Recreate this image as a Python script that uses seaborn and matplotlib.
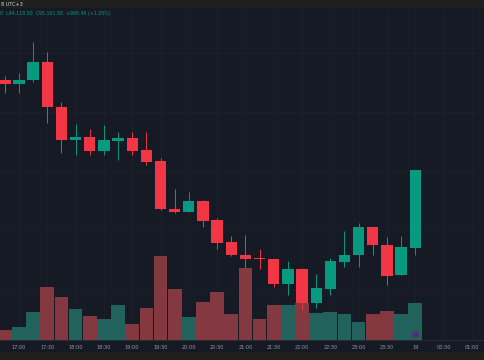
import numpy as np
import pandas as pd
import matplotlib
matplotlib.use("Agg")
import matplotlib.pyplot as plt
from matplotlib.patches import Rectangle
import seaborn as sns

# 15 minute candles, 16:45 -> 00:00
opens = [96250, 96199, 96250, 96480, 95905, 95484, 95523, 95344, 95472, 95510,
         95357, 95216, 94604, 94566, 94706, 94464, 94183, 94017, 93968, 93966,
         93647, 93838, 93404, 93583, 93928, 94017, 94374, 94145, 93762, 94106]
highs = [96301, 96339, 96735, 96607, 95969, 95688, 95625, 95676, 95586, 95586,
         95586, 95255, 94859, 94821, 94719, 94489, 94259, 94272, 94093, 93966,
         93940, 93851, 93775, 93979, 94323, 94425, 94374, 94247, 94259, 95101.5]
lows = [96084, 96084, 96224, 95701, 95318, 95293, 95293, 95293, 95229, 95293,
        95165, 94591, 94553, 94566, 94374, 94093, 94004, 93851, 93838, 93609,
        93506, 93315, 93341, 93506, 93864, 93864, 94017, 93634, 93762, 94017]
closes = [96199, 96250, 96480, 95905, 95484, 95523, 95344, 95484, 95510, 95344,
          95204, 94604, 94566, 94706, 94451, 94170, 94017, 93966, 93966, 93647,
          93838, 93404, 93596, 93940, 94017, 94374, 94145, 93749, 94119, 95101.5]
volumes = [10, 13, 28, 53, 43, 31, 24, 21, 35, 16,
           32, 84, 51, 23, 38, 48, 26, 72, 21, 35,
           35, 37, 27, 28, 26, 18, 26, 29, 26, 37]
tick_labels = ["17:00", "17:30", "18:00", "18:30", "19:00", "19:30", "20:00", "20:30",
               "21:00", "21:30", "22:00", "22:30", "23:00", "23:30", "19", "00:30", "01:00"]

BG = "#161a25"
GREEN = "#089981"
RED = "#f23645"
GRID = "#1d212c"

df = pd.DataFrame({"bar": np.arange(len(opens)), "open": opens, "high": highs,
                   "low": lows, "close": closes, "volume": volumes})
df["side"] = np.where(df["close"] >= df["open"], "up", "down")
df.loc[18, "side"] = "down"  # doji printed red

sns.set_theme(style="dark", rc={"axes.facecolor": BG, "figure.facecolor": "#1f1f1f",
                                "text.color": "#b2b5be", "xtick.color": "#9598a1"})

fig = plt.figure(figsize=(4.85, 3.6), dpi=100)
fig.patches.append(Rectangle((0, 8 / 360), 1, 344 / 360, transform=fig.transFigure,
                             facecolor=BG, edgecolor="none", zorder=-1))

ax = fig.add_axes([0, 20 / 360, 1, 332 / 360])
sns.barplot(data=df, x="bar", y="volume", hue="side",
            palette={"up": "#22625d", "down": "#83393f"}, dodge=False, width=0.97,
            saturation=1, linewidth=0, legend=False, ax=ax)
ax.scatter([29], [6], s=16, color="#5b2a78", zorder=5)
ax.set_ylim(0, 332)
ax.set_xlim(-0.343, 33.93)
ax.set_xticks(np.arange(1, 34, 2))
ax.set_xticklabels(tick_labels, fontsize=3.6)
ax.tick_params(axis="x", length=0, pad=3.5)
# horizontal price grid drawn here so it stays behind the volume bars
ax.set_yticks([51, 110, 169, 228, 287])
ax.set_yticklabels([])
ax.tick_params(axis="y", length=0)
ax.set_xlabel("")
ax.set_ylabel("")
ax.grid(True, color=GRID, linewidth=0.6)
ax.set_axisbelow(True)
for s in ["top", "left", "right"]:
    ax.spines[s].set_visible(False)
ax.spines["bottom"].set_color("#2a2e39")
ax.spines["bottom"].set_linewidth(0.6)

# candles on top of the volume
ax2 = ax.twinx()
colors = np.where(df["side"] == "up", GREEN, RED)
ax2.vlines(df["bar"], df["low"], df["high"], colors=colors, linewidth=0.7)
body = np.maximum((df["close"] - df["open"]).abs(), 12)
bottom = np.minimum(df["open"], df["close"])
ax2.bar(df["bar"], body, bottom=bottom, width=0.8, color=colors, linewidth=0)
ax2.set_ylim(92932, 97169)
ax2.set_yticks([])
ax2.grid(False)
for s in ax2.spines.values():
    s.set_visible(False)
ax2.set_xlim(-0.343, 33.93)

fig.text(0.002, 1 - 4 / 360, "8 UTC+3", fontsize=3.6, color="#d1d4dc", va="center")
fig.text(0.0, 1 - 14 / 360, "0  L94,118.50  C95,101.50  +995.45 (+1.05%)",
         fontsize=3.4, color=GREEN, va="center")

fig.savefig("out.png", dpi=100, facecolor=fig.get_facecolor())
